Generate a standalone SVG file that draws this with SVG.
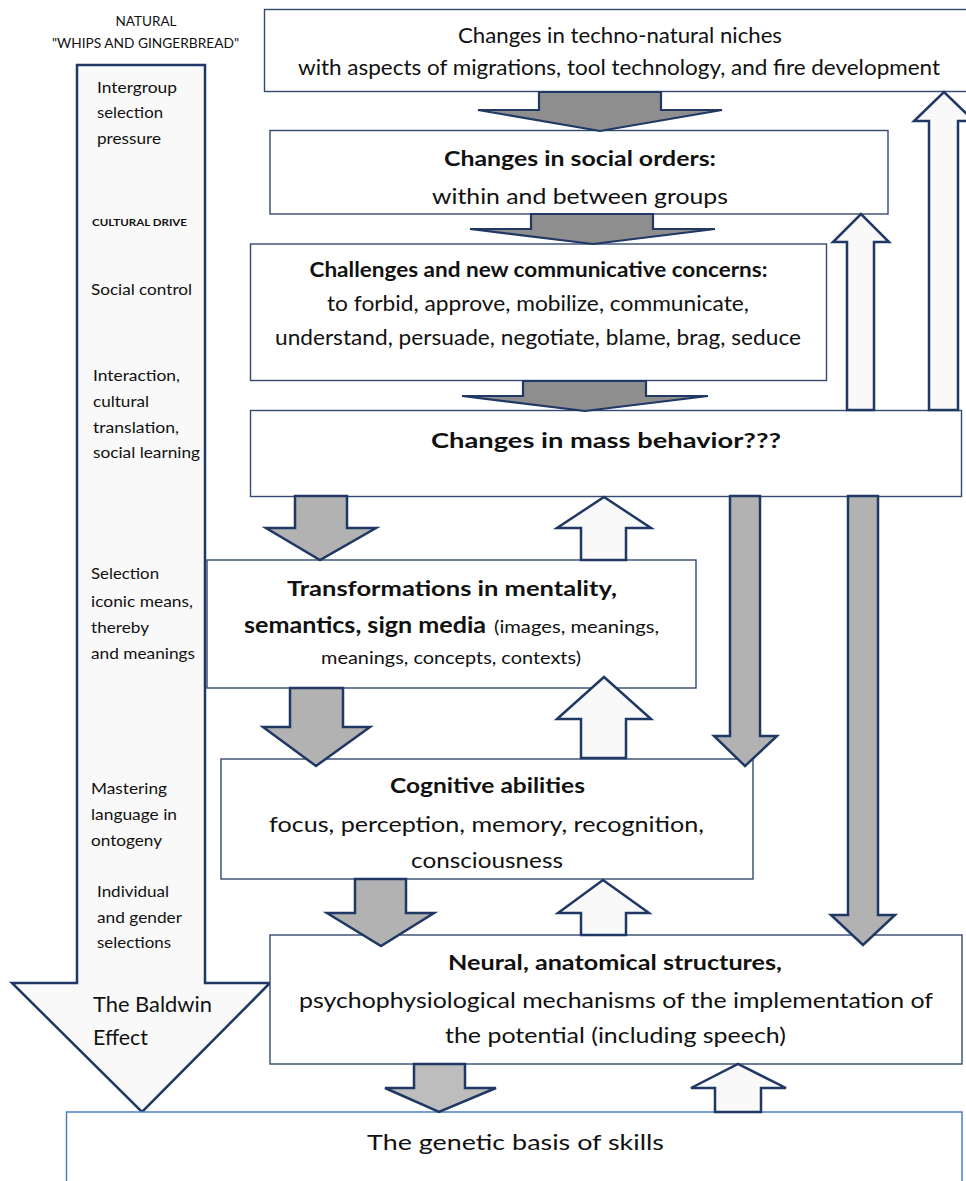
<svg xmlns="http://www.w3.org/2000/svg" width="966" height="1181" viewBox="0 0 966 1181">
<defs>
<style>
text{font-family:Lato,"Liberation Sans",sans-serif;fill:#111;}
.box{fill:#fff;stroke:#34496f;stroke-width:1.4;}
.gen{fill:#fff;stroke:#4f7cc9;stroke-width:1.5;}
.lbl{font-size:15px;}
.t{font-size:20.5px;text-anchor:middle;}
.b{font-weight:bold;}
.dk{fill:#8e8e8e;stroke:#1f3864;stroke-width:2.2;stroke-linejoin:miter;}
.gr{fill:#b2b2b2;stroke:#1f3864;stroke-width:2.5;stroke-linejoin:miter;}
.lt{fill:#f9f9f9;stroke:#1f3864;stroke-width:2.5;stroke-linejoin:miter;}
</style>
<clipPath id="c2"><rect x="270" y="130" width="620" height="83.5"/></clipPath>
</defs>
<rect width="966" height="1181" fill="#fff"/>

<g id="side-arrow">
<text x="146" y="26" font-size="13" text-anchor="middle" textLength="61" lengthAdjust="spacingAndGlyphs">NATURAL</text>
<text x="145.5" y="48" font-size="13" text-anchor="middle" textLength="187" lengthAdjust="spacingAndGlyphs">"WHIPS AND GINGERBREAD"</text>
<polygon class="lt" points="77,65 205,65 205,983 270,983 142,1112 12,983 77,983"/>
<text class="lbl" x="97" y="93" textLength="80" lengthAdjust="spacingAndGlyphs">Intergroup</text>
<text class="lbl" x="97" y="118" textLength="66" lengthAdjust="spacingAndGlyphs">selection</text>
<text class="lbl" x="97" y="144" textLength="64" lengthAdjust="spacingAndGlyphs">pressure</text>
<text x="92" y="226" font-size="10" font-weight="bold" textLength="95" lengthAdjust="spacingAndGlyphs">CULTURAL DRIVE</text>
<text class="lbl" x="91" y="295" textLength="101" lengthAdjust="spacingAndGlyphs">Social control</text>
<text class="lbl" x="93" y="381" textLength="87" lengthAdjust="spacingAndGlyphs">Interaction,</text>
<text class="lbl" x="93" y="407" textLength="56" lengthAdjust="spacingAndGlyphs">cultural</text>
<text class="lbl" x="93" y="433" textLength="86" lengthAdjust="spacingAndGlyphs">translation,</text>
<text class="lbl" x="93" y="458" textLength="107" lengthAdjust="spacingAndGlyphs">social learning</text>
<text class="lbl" x="91" y="579" textLength="68" lengthAdjust="spacingAndGlyphs">Selection</text>
<text class="lbl" x="91" y="607" textLength="102" lengthAdjust="spacingAndGlyphs">iconic means,</text>
<text class="lbl" x="91" y="633" textLength="58" lengthAdjust="spacingAndGlyphs">thereby</text>
<text class="lbl" x="91" y="659" textLength="104" lengthAdjust="spacingAndGlyphs">and meanings</text>
<text class="lbl" x="91" y="794" textLength="76" lengthAdjust="spacingAndGlyphs">Mastering</text>
<text class="lbl" x="91" y="820" textLength="86" lengthAdjust="spacingAndGlyphs">language in</text>
<text class="lbl" x="91" y="846" textLength="71" lengthAdjust="spacingAndGlyphs">ontogeny</text>
<text class="lbl" x="97" y="897" textLength="72" lengthAdjust="spacingAndGlyphs">Individual</text>
<text class="lbl" x="97" y="923" textLength="85" lengthAdjust="spacingAndGlyphs">and gender</text>
<text class="lbl" x="97" y="948" textLength="74" lengthAdjust="spacingAndGlyphs">selections</text>
<text x="93" y="1012" font-size="21.5" textLength="119" lengthAdjust="spacingAndGlyphs">The Baldwin</text>
<text x="93" y="1045" font-size="21.5" textLength="55" lengthAdjust="spacingAndGlyphs">Effect</text>
</g>

<g id="niches">
<rect class="box" x="264.5" y="9.5" width="740" height="82"/>
<text class="t" x="620" y="43" textLength="324" lengthAdjust="spacingAndGlyphs">Changes in techno-natural niches</text>
<text class="t" x="619" y="75" textLength="642" lengthAdjust="spacingAndGlyphs">with aspects of migrations, tool technology, and fire development</text>
</g>

<g id="social-orders">
<rect class="box" x="270" y="130.5" width="618" height="83.5"/>
<text class="t b" x="580" y="166" textLength="272" lengthAdjust="spacingAndGlyphs">Changes in social orders:</text>
<text class="t" x="580" y="204" font-size="22" textLength="296" lengthAdjust="spacingAndGlyphs" clip-path="url(#c2)">within and between groups</text>
</g>

<g id="challenges">
<rect class="box" x="250.5" y="244" width="576" height="136.5"/>
<text class="t b" x="538.5" y="277" textLength="458" lengthAdjust="spacingAndGlyphs">Challenges and new communicative concerns:</text>
<text class="t" x="538" y="311" textLength="422" lengthAdjust="spacingAndGlyphs">to forbid, approve, mobilize, communicate,</text>
<text class="t" x="538" y="345" textLength="526" lengthAdjust="spacingAndGlyphs">understand, persuade, negotiate, blame, brag, seduce</text>
</g>

<g id="mass-behavior">
<rect class="box" x="250.5" y="410.5" width="711" height="86"/>
<text class="t b" x="606" y="448" font-size="23.5" textLength="350" lengthAdjust="spacingAndGlyphs">Changes in mass behavior???</text>
</g>

<g id="transformations">
<rect class="box" x="207" y="560" width="489" height="128"/>
<text class="t b" x="452" y="596" font-size="22" textLength="330" lengthAdjust="spacingAndGlyphs">Transformations in mentality,</text>
<text x="244" y="633" font-size="22" font-weight="bold" textLength="242" lengthAdjust="spacingAndGlyphs">semantics, sign media</text>
<text x="494" y="633" font-size="17" textLength="165" lengthAdjust="spacingAndGlyphs">(images, meanings,</text>
<text x="451" y="664" font-size="17" text-anchor="middle" textLength="260" lengthAdjust="spacingAndGlyphs">meanings, concepts, contexts)</text>
</g>

<g id="cognitive">
<rect class="box" x="221" y="759" width="532" height="120"/>
<text class="t b" x="487.5" y="793" textLength="195" lengthAdjust="spacingAndGlyphs">Cognitive abilities</text>
<text class="t" x="486.5" y="832" font-size="22" textLength="435" lengthAdjust="spacingAndGlyphs">focus, perception, memory, recognition,</text>
<text class="t" x="487" y="868" font-size="22" textLength="152" lengthAdjust="spacingAndGlyphs">consciousness</text>
</g>

<g id="neural">
<rect class="box" x="270" y="935" width="692" height="129"/>
<text class="t b" x="615" y="970" textLength="334" lengthAdjust="spacingAndGlyphs">Neural, anatomical structures,</text>
<text class="t" x="616" y="1008" font-size="21.5" textLength="634" lengthAdjust="spacingAndGlyphs">psychophysiological mechanisms of the implementation of</text>
<text class="t" x="615.5" y="1043" font-size="21.5" textLength="341" lengthAdjust="spacingAndGlyphs">the potential (including speech)</text>
</g>

<g id="genetic">
<rect class="gen" x="66.5" y="1112" width="895.5" height="100"/>
<text class="t" x="515.5" y="1150" font-size="23.5" textLength="297" lengthAdjust="spacingAndGlyphs">The genetic basis of skills</text>
</g>

<g id="connectors">
<polygon class="dk" points="539,92 661,92 661,110 722,110 600,131 478,110 539,110"/>
<polygon class="dk" points="531,214 653,214 653,229 715,229 593,244 470,229 531,229"/>
<polygon class="dk" points="523,381 646,381 646,396 708,396 585,411 462,396 523,396"/>
<polygon class="gr" points="295,496 347,496 347,528 376,528 320,560 266,528 295,528"/>
<polygon class="gr" points="290,688 343,688 343,727 370,727 316,766 263,727 290,727"/>
<polygon class="gr" points="355,879 406,879 406,913 434,913 381,946 327,913 355,913"/>
<polygon class="gr" points="414,1064 465,1064 465,1088 496,1088 439,1112 385,1088 414,1088" style="fill:#bdbdbd"/>
<polygon class="gr" points="730,496 760,496 760,736 777,736 745,766 714,736 730,736"/>
<polygon class="gr" points="848,496 878,496 878,915 895,915 863,945 831,915 848,915"/>
<polygon class="lt" points="581,560 626,560 626,528 651,528 604,497 557,528 581,528"/>
<polygon class="lt" points="581,758 626,758 626,719 651,719 604,677 557,719 581,719"/>
<polygon class="lt" points="581,935 626,935 626,913 649,913 603,880 558,913 581,913"/>
<polygon class="lt" points="715,1112 761,1112 761,1088 786,1088 738,1064 691,1088 715,1088"/>
<polygon class="lt" points="847,410 874,410 874,242 889,242 861,214 833,242 847,242"/>
<polygon class="lt" points="929,410 958,410 958,121 974,121 944,92 914,121 929,121"/>
</g>
</svg>
